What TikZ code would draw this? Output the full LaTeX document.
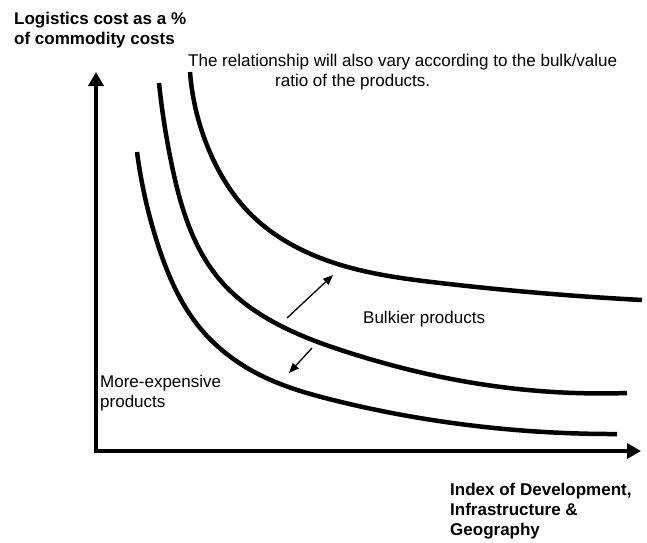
\documentclass[tikz,border=0pt]{standalone}
\usepackage{fontspec}
\setmainfont{Liberation Sans}
\usetikzlibrary{arrows.meta,hobby}
\begin{document}
\begin{tikzpicture}[x=1pt,y=-1pt,
  axisline/.style={line width=4.5pt,-{Triangle[length=14pt,width=15pt]}},
  curveline/.style={line width=4.5pt,use Hobby shortcut},
  smallarrow/.style={line width=1.3pt,-{Triangle[length=10pt,width=8pt]}},
  lbl/.style={inner sep=0pt,anchor=base west,font=\fontsize{17}{20}\selectfont},
  blbl/.style={lbl,font=\fontsize{17}{20}\selectfont\bfseries}]
\useasboundingbox (0,0) rectangle (647,542);
% axes
\coordinate (origV) at (96,453);
\coordinate (topV) at (96,72);
\coordinate (origH) at (94,451);
\coordinate (endH) at (641,451);
\draw[axisline] (origV) -- (topV);
\draw[axisline] (origH) -- (endH);
% curves
\draw[curveline] (190,72) .. (212,157) .. (250,213.5) .. (323,259) .. (440,283) .. (642,300);
\draw[curveline] (159,83) .. (172,166) .. (220,280) .. (283,327) .. (350,353) .. (480,384) .. (627,393);
\draw[curveline] (137,152) .. (158,245) .. (200,328) .. (260,375) .. (333,400) .. (460,424) .. (617,434);
% small arrows
\coordinate (upA) at (287,318);
\coordinate (upB) at (333,275);
\coordinate (dnA) at (312,348);
\coordinate (dnB) at (289,373);
\draw[smallarrow] (upA) -- (upB);
\draw[smallarrow] (dnA) -- (dnB);
% labels
\node[blbl] (ylab1) at (14,24.5) {Logistics cost as a \%};
\node[blbl] (ylab2) at (14,44) {of commodity costs};
\node[lbl] (rel1) at (188,66) {The relationship will also vary according to the bulk/value};
\node[lbl] (rel2) at (275,86) {ratio of the products.};
\node[lbl] (bulk) at (363,323) {Bulkier products};
\node[lbl] (exp1) at (100,387) {More-expensive};
\node[lbl] (exp2) at (100,407) {products};
\node[blbl] (xlab1) at (450,495) {Index of Development,};
\node[blbl] (xlab2) at (450,515) {Infrastructure \&};
\node[blbl] (xlab3) at (450,535) {Geography};
\end{tikzpicture}
\end{document}
